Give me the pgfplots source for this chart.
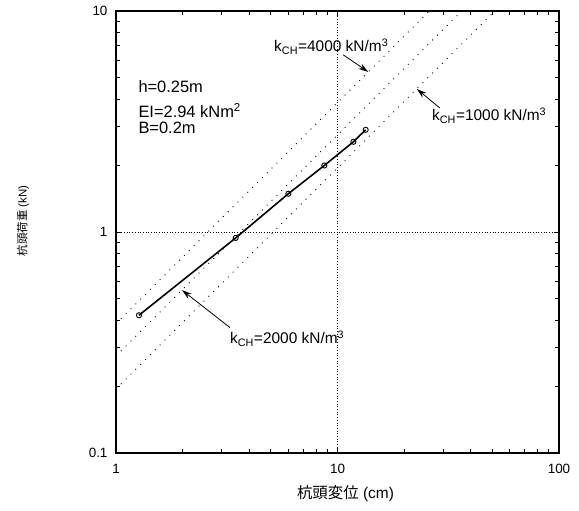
\documentclass[border=0pt]{standalone}
\usepackage{fontspec}
\setmainfont{Liberation Sans}
\newfontfamily\jp{Noto Sans CJK JP}
\usepackage{pgfplots}
\pgfplotsset{compat=1.18}
\usetikzlibrary{arrows.meta}

\tikzset{
  kline/.style={black, line width=0.9pt, dash pattern=on 0.9pt off 6pt},
  note/.style={anchor=base west, inner sep=0pt, font=\fontsize{15.5}{15.5}\selectfont},
  param/.style={anchor=base west, inner sep=0pt, font=\fontsize{16.5}{16.5}\selectfont},
  pointer/.style={-{Stealth[length=10pt,width=6pt]}, line width=0.8pt},
}

\begin{document}
\begin{tikzpicture}
\begin{loglogaxis}[
  scale only axis, width=443bp, height=442bp,
  xmin=1, xmax=100, ymin=0.1, ymax=10,
  log ticks with fixed point,
  /pgf/number format/assume math mode=true,
  tick label style={font=\fontsize{13.5}{13.5}\selectfont},
  xticklabel style={yshift=-8bp},
  yticklabel style={xshift=-5bp},
  axis line style={line width=2.2pt},
  major tick style={line width=1pt, black},
  minor tick style={line width=0.8pt, black},
  major tick length=5pt, minor tick length=4pt,
  xmajorgrids, ymajorgrids,
  major grid style={black, line width=0.9pt, dash pattern=on 0.9pt off 1.8pt},
  xlabel={{\jp 杭頭変位} (cm)},
  ylabel={{\jp 杭頭荷重} (kN)},
  every axis x label/.style={at={(axis description cs:0.518,-0.093)}, anchor=center, font=\fontsize{15.5}{15.5}\selectfont},
  every axis y label/.style={at={(axis description cs:-0.21,0.525)}, anchor=center, rotate=90, font=\fontsize{11.5}{11.5}\selectfont},
]
% reference lines for k_CH = 4000, 2000, 1000 kN/m^3
\addplot[kline] coordinates {(1,0.385) (25.97,10)};
\addplot[kline] coordinates {(1,0.275) (36.36,10)};
\addplot[kline] coordinates {(1,0.195) (51.28,10)};

% measured load-displacement curve
\addplot[black, line width=1.6pt, mark=o, mark size=2.6pt,
  mark options={line width=0.9pt, solid}]
  coordinates {(1.27,0.42) (3.47,0.94) (6.0,1.49) (8.72,2.0) (11.8,2.56) (13.4,2.9)};

% pile parameters
\node[param] at (axis cs:1.261,4.28) {h=0.25m};
\node[param] at (axis cs:1.261,3.288) {EI=2.94 kNm\textsuperscript{2}};
\node[param] at (axis cs:1.261,2.785) {B=0.2m};

% line labels
\node[note] at (axis cs:5.17,6.56) {k\textsubscript{CH}=4000 kN/m\textsuperscript{3}};
\draw[pointer] (axis cs:10.62,6.33) -- (axis cs:13.77,5.30);
\node[note] at (axis cs:26.71,3.197) {k\textsubscript{CH}=1000 kN/m\textsuperscript{3}};
\draw[pointer] (axis cs:29.02,3.637) -- (axis cs:22.79,4.44);
\node[note] at (axis cs:3.27,0.3128) {k\textsubscript{CH}=2000 kN/m\textsuperscript{3}};
\draw[pointer] (axis cs:3.27,0.3694) -- (axis cs:1.986,0.546);
\end{loglogaxis}
\path (current axis.south west) ++(-116bp,-58bp) rectangle ([xshift=20bp,yshift=11bp]current axis.north east);
\end{tikzpicture}
\end{document}
